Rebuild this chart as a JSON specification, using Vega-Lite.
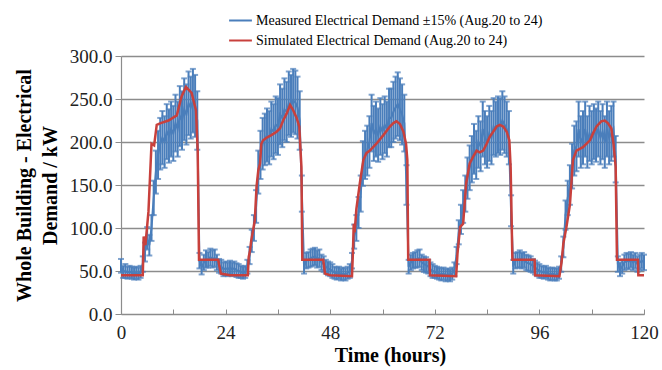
{
"$schema": "https://vega.github.io/schema/vega-lite/v6.json",
"width": 523, "height": 258,
"autosize": {"type": "none"},
"padding": {"left": 121, "top": 56, "right": 18, "bottom": 56},
"background": "white",
"config": {"view": {"stroke": null}, "font": "Liberation Serif"},
"datasets": {
"meas": [
{"t":0,"v":56,"e":8},{"t":0.5,"v":49,"e":7},{"t":1,"v":50,"e":8},{"t":1.5,"v":48,"e":7},{"t":2,"v":49,"e":7},{"t":2.5,"v":48,"e":7},{"t":3,"v":47,"e":7},{"t":3.5,"v":48,"e":7},{"t":4,"v":47,"e":7},{"t":4.5,"v":49,"e":7},
{"t":5,"v":58,"e":9},{"t":5.5,"v":72,"e":11},{"t":6,"v":88,"e":13},{"t":6.5,"v":80,"e":12},{"t":7,"v":100,"e":15},{"t":7.5,"v":135,"e":20},{"t":8,"v":165,"e":25},{"t":8.5,"v":185,"e":28},{"t":9,"v":198,"e":30},{"t":9.5,"v":205,"e":31},
{"t":10,"v":200,"e":30},{"t":10.5,"v":212,"e":32},{"t":11,"v":207,"e":31},{"t":11.5,"v":215,"e":32},{"t":12,"v":210,"e":32},{"t":12.5,"v":222,"e":33},{"t":13,"v":215,"e":32},{"t":13.5,"v":230,"e":35},{"t":14,"v":225,"e":34},{"t":14.5,"v":238,"e":36},
{"t":15,"v":232,"e":35},{"t":15.5,"v":245,"e":37},{"t":16,"v":240,"e":36},{"t":16.5,"v":248,"e":37},{"t":17,"v":242,"e":36},{"t":17.5,"v":225,"e":34},{"t":18,"v":62,"e":9},{"t":18.5,"v":54,"e":8},{"t":19,"v":60,"e":9},{"t":19.5,"v":64,"e":10},
{"t":20,"v":63,"e":9},{"t":20.5,"v":66,"e":10},{"t":21,"v":64,"e":10},{"t":21.5,"v":65,"e":10},{"t":22,"v":60,"e":9},{"t":22.5,"v":56,"e":8},{"t":23,"v":55,"e":8},{"t":23.5,"v":52,"e":8},
{"t":24,"v":53,"e":8},{"t":24.5,"v":52,"e":8},{"t":25,"v":54,"e":8},{"t":25.5,"v":52,"e":8},{"t":26,"v":53,"e":8},{"t":26.5,"v":51,"e":8},{"t":27,"v":50,"e":8},{"t":27.5,"v":49,"e":7},{"t":28,"v":48,"e":7},{"t":28.5,"v":49,"e":7},
{"t":29,"v":55,"e":8},{"t":29.5,"v":68,"e":10},{"t":30,"v":85,"e":13},{"t":30.5,"v":100,"e":15},{"t":31,"v":125,"e":19},{"t":31.5,"v":165,"e":25},{"t":32,"v":185,"e":28},{"t":32.5,"v":198,"e":30},{"t":33,"v":203,"e":30},{"t":33.5,"v":208,"e":31},
{"t":34,"v":205,"e":31},{"t":34.5,"v":215,"e":32},{"t":35,"v":212,"e":32},{"t":35.5,"v":220,"e":33},{"t":36,"v":218,"e":33},{"t":36.5,"v":232,"e":35},{"t":37,"v":228,"e":34},{"t":37.5,"v":238,"e":36},{"t":38,"v":235,"e":35},{"t":38.5,"v":245,"e":37},
{"t":39,"v":242,"e":36},{"t":39.5,"v":248,"e":37},{"t":40,"v":246,"e":37},{"t":40.5,"v":240,"e":36},{"t":41,"v":225,"e":34},{"t":41.5,"v":140,"e":21},{"t":42,"v":55,"e":8},{"t":42.5,"v":62,"e":9},{"t":43,"v":63,"e":9},{"t":43.5,"v":65,"e":10},
{"t":44,"v":66,"e":10},{"t":44.5,"v":67,"e":10},{"t":45,"v":64,"e":10},{"t":45.5,"v":65,"e":10},{"t":46,"v":60,"e":9},{"t":46.5,"v":58,"e":9},{"t":47,"v":55,"e":8},{"t":47.5,"v":53,"e":8},
{"t":48,"v":52,"e":8},{"t":48.5,"v":50,"e":8},{"t":49,"v":48,"e":7},{"t":49.5,"v":47,"e":7},{"t":50,"v":48,"e":7},{"t":50.5,"v":46,"e":7},{"t":51,"v":47,"e":7},{"t":51.5,"v":46,"e":7},{"t":52,"v":48,"e":7},{"t":52.5,"v":50,"e":8},
{"t":53,"v":62,"e":9},{"t":53.5,"v":90,"e":14},{"t":54,"v":100,"e":15},{"t":54.5,"v":118,"e":18},{"t":55,"v":140,"e":21},{"t":55.5,"v":175,"e":26},{"t":56,"v":185,"e":28},{"t":56.5,"v":190,"e":29},{"t":57,"v":200,"e":30},{"t":57.5,"v":222,"e":33},
{"t":58,"v":210,"e":32},{"t":58.5,"v":215,"e":32},{"t":59,"v":208,"e":31},{"t":59.5,"v":218,"e":33},{"t":60,"v":212,"e":32},{"t":60.5,"v":220,"e":33},{"t":61,"v":215,"e":32},{"t":61.5,"v":228,"e":34},{"t":62,"v":228,"e":34},{"t":62.5,"v":235,"e":35},
{"t":63,"v":240,"e":36},{"t":63.5,"v":244,"e":37},{"t":64,"v":238,"e":36},{"t":64.5,"v":232,"e":35},{"t":65,"v":222,"e":33},{"t":65.5,"v":150,"e":23},{"t":66,"v":55,"e":8},{"t":66.5,"v":60,"e":9},{"t":67,"v":62,"e":9},{"t":67.5,"v":63,"e":9},
{"t":68,"v":64,"e":10},{"t":68.5,"v":65,"e":10},{"t":69,"v":60,"e":9},{"t":69.5,"v":58,"e":9},{"t":70,"v":57,"e":9},{"t":70.5,"v":55,"e":8},{"t":71,"v":52,"e":8},{"t":71.5,"v":50,"e":8},
{"t":72,"v":49,"e":7},{"t":72.5,"v":48,"e":7},{"t":73,"v":47,"e":7},{"t":73.5,"v":46,"e":7},{"t":74,"v":47,"e":7},{"t":74.5,"v":45,"e":7},{"t":75,"v":46,"e":7},{"t":75.5,"v":45,"e":7},{"t":76,"v":47,"e":7},{"t":76.5,"v":52,"e":8},
{"t":77,"v":68,"e":10},{"t":77.5,"v":95,"e":14},{"t":78,"v":110,"e":17},{"t":78.5,"v":125,"e":19},{"t":79,"v":140,"e":21},{"t":79.5,"v":158,"e":24},{"t":80,"v":170,"e":26},{"t":80.5,"v":180,"e":27},{"t":81,"v":192,"e":29},{"t":81.5,"v":185,"e":28},
{"t":82,"v":200,"e":30},{"t":82.5,"v":195,"e":29},{"t":83,"v":215,"e":32},{"t":83.5,"v":205,"e":31},{"t":84,"v":200,"e":30},{"t":84.5,"v":210,"e":32},{"t":85,"v":205,"e":31},{"t":85.5,"v":218,"e":33},{"t":86,"v":215,"e":32},{"t":86.5,"v":220,"e":33},
{"t":87,"v":218,"e":33},{"t":87.5,"v":225,"e":34},{"t":88,"v":220,"e":33},{"t":88.5,"v":215,"e":32},{"t":89,"v":205,"e":31},{"t":89.5,"v":120,"e":18},{"t":90,"v":55,"e":8},{"t":90.5,"v":62,"e":9},{"t":91,"v":63,"e":9},{"t":91.5,"v":64,"e":10},
{"t":92,"v":62,"e":9},{"t":92.5,"v":63,"e":9},{"t":93,"v":60,"e":9},{"t":93.5,"v":59,"e":9},{"t":94,"v":58,"e":9},{"t":94.5,"v":56,"e":8},{"t":95,"v":54,"e":8},{"t":95.5,"v":52,"e":8},
{"t":96,"v":50,"e":8},{"t":96.5,"v":49,"e":7},{"t":97,"v":48,"e":7},{"t":97.5,"v":49,"e":7},{"t":98,"v":47,"e":7},{"t":98.5,"v":46,"e":7},{"t":99,"v":47,"e":7},{"t":99.5,"v":46,"e":7},{"t":100,"v":46,"e":7},{"t":100.5,"v":48,"e":7},
{"t":101,"v":58,"e":9},{"t":101.5,"v":78,"e":12},{"t":102,"v":115,"e":17},{"t":102.5,"v":135,"e":20},{"t":103,"v":150,"e":23},{"t":103.5,"v":172,"e":26},{"t":104,"v":190,"e":29},{"t":104.5,"v":195,"e":29},{"t":105,"v":215,"e":32},{"t":105.5,"v":200,"e":30},
{"t":106,"v":205,"e":31},{"t":106.5,"v":215,"e":32},{"t":107,"v":200,"e":30},{"t":107.5,"v":210,"e":32},{"t":108,"v":205,"e":31},{"t":108.5,"v":212,"e":32},{"t":109,"v":208,"e":31},{"t":109.5,"v":215,"e":32},{"t":110,"v":205,"e":31},{"t":110.5,"v":212,"e":32},
{"t":111,"v":200,"e":30},{"t":111.5,"v":215,"e":32},{"t":112,"v":205,"e":31},{"t":112.5,"v":210,"e":32},{"t":113,"v":215,"e":32},{"t":113.5,"v":180,"e":27},{"t":114,"v":58,"e":9},{"t":114.5,"v":52,"e":8},{"t":115,"v":55,"e":8},{"t":115.5,"v":60,"e":9},
{"t":116,"v":62,"e":9},{"t":116.5,"v":61,"e":9},{"t":117,"v":63,"e":9},{"t":117.5,"v":60,"e":9},{"t":118,"v":62,"e":9},{"t":118.5,"v":58,"e":9},{"t":119,"v":60,"e":9},{"t":119.5,"v":62,"e":9},{"t":120,"v":60,"e":9}
],
"sim": [
{"t":0,"v":45},{"t":5.0,"v":45},{"t":5.2,"v":90},{"t":5.6,"v":80},{"t":6.3,"v":119},{"t":7.0,"v":198},{"t":7.6,"v":196},{"t":8.2,"v":220},{"t":9.1,"v":222},{"t":10.9,"v":225},{"t":12.8,"v":231},{"t":13.9,"v":253},{"t":14.9,"v":264},{"t":16.2,"v":257},{"t":17.2,"v":237},{"t":17.6,"v":190},{"t":17.9,"v":63},{"t":22.3,"v":63},{"t":22.9,"v":47},
{"t":25,"v":45},{"t":29.1,"v":45},{"t":29.3,"v":66},{"t":29.6,"v":74},{"t":29.9,"v":86},{"t":30.3,"v":97},{"t":30.7,"v":109},{"t":31.1,"v":148},{"t":31.5,"v":167},{"t":31.9,"v":175},{"t":32.2,"v":198},{"t":32.6,"v":202},{"t":33.4,"v":205},{"t":34.5,"v":208},{"t":35.7,"v":212},{"t":36.5,"v":216},{"t":37.2,"v":225},{"t":38.0,"v":233},{"t":38.8,"v":243},{"t":39.5,"v":237},{"t":40.3,"v":228},{"t":40.9,"v":218},{"t":41.4,"v":171},{"t":41.6,"v":63},{"t":46.4,"v":63},{"t":46.8,"v":47},
{"t":48,"v":45},{"t":53.0,"v":44},{"t":53.2,"v":70},{"t":53.4,"v":105},{"t":53.6,"v":95},{"t":54.0,"v":122},{"t":54.8,"v":152},{"t":55.6,"v":179},{"t":56.3,"v":187},{"t":57.1,"v":190},{"t":58.6,"v":198},{"t":60.2,"v":208},{"t":61.7,"v":218},{"t":62.5,"v":222},{"t":63.2,"v":224},{"t":64.0,"v":221},{"t":64.8,"v":212},{"t":65.4,"v":198},{"t":65.7,"v":179},{"t":65.9,"v":63},{"t":70.8,"v":63},{"t":70.9,"v":45},
{"t":76.9,"v":44},{"t":77.2,"v":70},{"t":77.8,"v":101},{"t":78.5,"v":105},{"t":78.9,"v":132},{"t":79.2,"v":152},{"t":80.0,"v":175},{"t":80.8,"v":183},{"t":81.6,"v":190},{"t":82.3,"v":188},{"t":83.1,"v":190},{"t":83.9,"v":198},{"t":84.6,"v":206},{"t":85.4,"v":212},{"t":86.2,"v":218},{"t":86.9,"v":220},{"t":87.7,"v":218},{"t":88.5,"v":212},{"t":89.1,"v":202},{"t":89.4,"v":171},{"t":89.8,"v":63},{"t":94.9,"v":63},{"t":95.0,"v":45},
{"t":100.6,"v":44},{"t":101.1,"v":61},{"t":101.5,"v":82},{"t":102.2,"v":101},{"t":103.0,"v":127},{"t":103.7,"v":179},{"t":104.5,"v":190},{"t":106.0,"v":194},{"t":107.6,"v":202},{"t":108.3,"v":210},{"t":109.1,"v":218},{"t":110.2,"v":224},{"t":111.0,"v":225},{"t":111.7,"v":222},{"t":112.5,"v":216},{"t":113.0,"v":198},{"t":113.5,"v":171},{"t":113.8,"v":63},{"t":118.6,"v":63},{"t":118.7,"v":45},{"t":120,"v":45}
]
},
"layer": [
{
"data": {"name": "meas"},
"mark": {"type": "errorbar", "orient": "vertical", "ticks": {"size": 6}, "thickness": 2, "color": "#4A7EBB"},
"encoding": {
"x": {"field": "t", "type": "quantitative", "scale": {"domain": [0, 120], "nice": false},
"axis": {"values": [0,6,12,18,24,30,36,42,48,54,60,66,72,78,84,90,96,102,108,114,120], "format": "d",
"labelExpr": "datum.value % 24 === 0 ? datum.label : ''", "labelOverlap": false, "labelFlush": false,
"grid": false, "domainColor": "#8c8c8c", "domainWidth": 1.2, "tickColor": "#8c8c8c", "tickSize": -5, "labelPadding": 14,
"labelFont": "Liberation Serif", "labelFontSize": 19, "labelColor": "#222",
"title": "Time (hours)", "titleFont": "Liberation Serif", "titleFontSize": 20, "titleFontWeight": "bold", "titleColor": "#000",
"titleX": 269, "titleY": 41, "titleBaseline": "middle", "titleAnchor": null}},
"y": {"field": "v", "type": "quantitative", "scale": {"domain": [0, 300], "nice": false},
"axis": {"values": [0,50,100,150,200,250,300], "format": ".1f", "grid": true, "gridColor": "#8c8c8c", "gridWidth": 1.3,
"domainColor": "#8c8c8c", "domainWidth": 1.2, "tickColor": "#8c8c8c", "tickSize": 6, "labelPadding": 3,
"labelFont": "Liberation Serif", "labelFontSize": 19, "labelColor": "#222",
"title": ["Whole Building - Electrical", "Demand / kW"], "titleFont": "Liberation Serif", "titleFontSize": 20, "titleFontWeight": "bold", "titleColor": "#000",
"titleLineHeight": 26, "titleX": -87, "titleY": 129, "titleBaseline": "bottom", "titleAngle": -90}},
"yError": {"field": "e"}
}
},
{
"data": {"name": "meas"},
"mark": {"type": "line", "strokeWidth": 2},
"encoding": {
"x": {"field": "t", "type": "quantitative"},
"y": {"field": "v", "type": "quantitative"},
"color": {"datum": "Measured Electrical Demand ±15% (Aug.20 to 24)",
"scale": {"domain": ["Measured Electrical Demand ±15% (Aug.20 to 24)", "Simulated Electrical Demand (Aug.20 to 24)"], "range": ["#4A7EBB", "#C8403C"]},
"legend": {"orient": "none", "legendX": 107, "legendY": -48, "direction": "vertical", "title": null, "padding": 0,
"symbolType": "stroke", "symbolSize": 520, "symbolStrokeWidth": 2, "rowPadding": 0, "labelOffset": 3, "labelLimit": 0,
"labelFont": "Liberation Serif", "labelFontSize": 14, "labelColor": "#000"}}
}
},
{
"data": {"name": "sim"},
"mark": {"type": "line", "strokeWidth": 2.5},
"encoding": {
"x": {"field": "t", "type": "quantitative"},
"y": {"field": "v", "type": "quantitative"},
"color": {"datum": "Simulated Electrical Demand (Aug.20 to 24)"}
}
}
]
}
